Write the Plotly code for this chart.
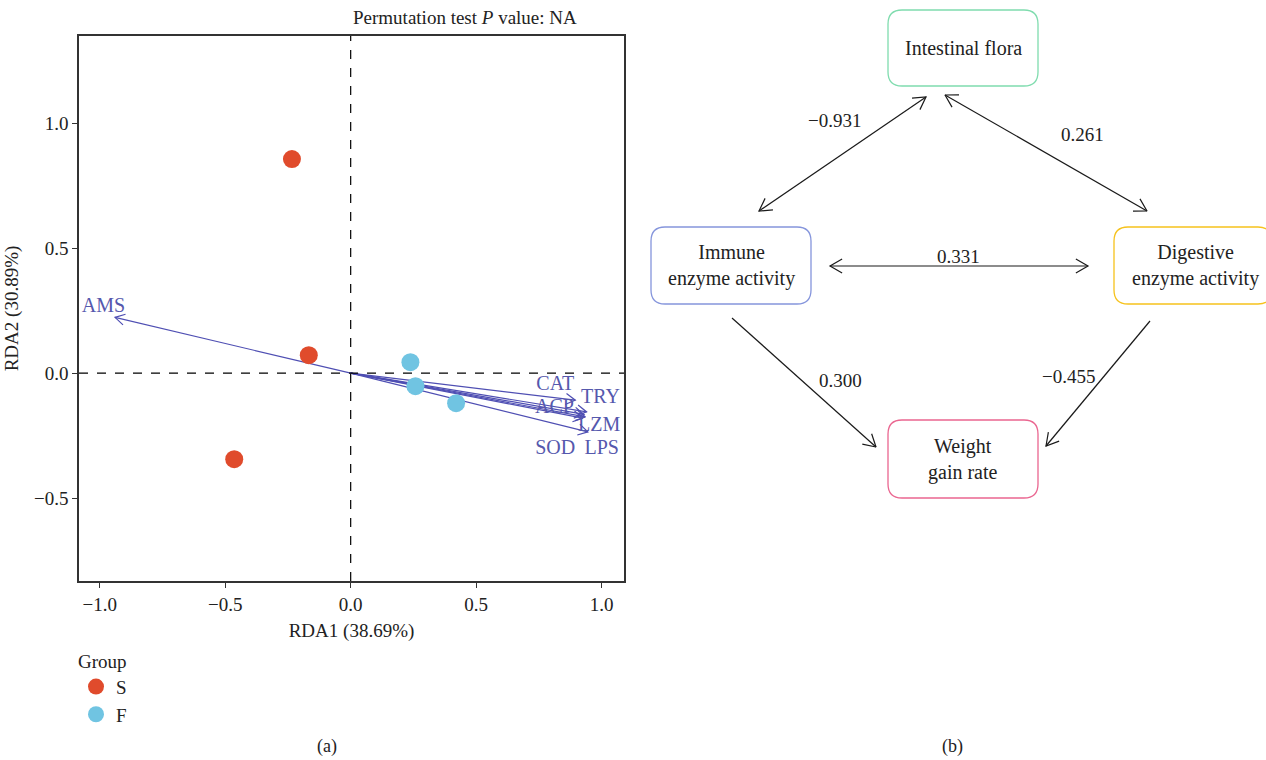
import math
import plotly.graph_objects as go

# ---------------- data: RDA biplot ----------------
groups = ["S", "S", "S", "F", "F", "F"]
rda1 = [-0.234, -0.167, -0.464, 0.238, 0.258, 0.420]
rda2 = [0.856, 0.072, -0.344, 0.044, -0.052, -0.120]
group_order = ["S", "F"]
group_colors = {"S": "#e04b2c", "F": "#70c4e2"}

env_names = ["AMS", "CAT", "TRY", "ACP", "LZM", "SOD", "LPS"]
env_x = [-0.939, 0.895, 0.940, 0.930, 0.935, 0.925, 0.945]
env_y = [0.223, -0.108, -0.155, -0.165, -0.175, -0.180, -0.235]
env_label_x = [-0.985, 0.815, 0.995, 0.812, 0.990, 0.815, 1.000]
env_label_y = [0.265, -0.048, -0.100, -0.140, -0.212, -0.304, -0.304]

x_ticks = [-1.0, -0.5, 0.0, 0.5, 1.0]
y_ticks = [-0.5, 0.0, 0.5, 1.0]

# ---------------- data: path diagram ----------------
node_names = ["Intestinal flora", "Immune<br>enzyme activity",
              "Digestive<br>enzyme activity", "Weight<br>gain rate"]
node_colors = ["#7fdcae", "#8595dc", "#f6c21c", "#ea6690"]
path_labels = ["\u22120.931", "0.261", "0.331", "0.300", "\u22120.455"]

# ---------------- layout geometry ----------------
W, H = 1266, 760
XR = [-1.0825, 1.089]
YR = [-0.831, 1.348]
PX0, PX1, PY0, PY1 = 79, 624, 36, 581  # plot area pixels (left, right, top, bottom)

FONT = "Liberation Serif"
ARROW_C = "#4f4fb3"
TXT = "#222222"

fig = go.Figure()

def d2p(x, y):
    px = PX0 + (x - XR[0]) / (XR[1] - XR[0]) * (PX1 - PX0)
    py = PY1 - (y - YR[0]) / (YR[1] - YR[0]) * (PY1 - PY0)
    return px, py

def p2d(px, py):
    x = XR[0] + (px - PX0) / (PX1 - PX0) * (XR[1] - XR[0])
    y = YR[0] + (PY1 - py) / (PY1 - PY0) * (YR[1] - YR[0])
    return x, y

def head_px(x0, y0, x1, y1, L=12, ang=28):
    a = math.atan2(y1 - y0, x1 - x0)
    pts = []
    for s in (1, -1):
        b = a + math.pi + s * math.radians(ang)
        pts.append((x1 + L * math.cos(b), y1 + L * math.sin(b)))
    return pts

# env arrows
for name, ex, ey in zip(env_names, env_x, env_y):
    ox, oy = d2p(0, 0)
    tx, ty = d2p(ex, ey)
    (h1x, h1y), (h2x, h2y) = head_px(ox, oy, tx, ty, L=11, ang=30)
    a1 = p2d(h1x, h1y)
    a2 = p2d(h2x, h2y)
    fig.add_trace(go.Scatter(
        x=[0, ex, None, a1[0], ex, a2[0]],
        y=[0, ey, None, a1[1], ey, a2[1]],
        mode="lines", line=dict(color=ARROW_C, width=1.2),
        showlegend=False, hoverinfo="skip", xaxis="x", yaxis="y"))

fig.add_trace(go.Scatter(
    x=env_label_x, y=env_label_y, text=env_names, mode="text",
    textfont=dict(family=FONT, size=20, color="#5558ad"),
    showlegend=False, hoverinfo="skip", xaxis="x", yaxis="y"))

# sample points
for g in group_order:
    xs = [x for x, gg in zip(rda1, groups) if gg == g]
    ys = [y for y, gg in zip(rda2, groups) if gg == g]
    fig.add_trace(go.Scatter(
        x=xs, y=ys, mode="markers", name=g,
        marker=dict(color=group_colors[g], size=18, line=dict(width=0)),
        xaxis="x", yaxis="y"))

# dashed zero lines
fig.add_shape(type="line", xref="x", yref="paper", x0=0, x1=0,
              y0=(H - PY1) / H, y1=(H - PY0) / H,
              line=dict(color="black", width=1.2, dash="dash"))
fig.add_shape(type="line", xref="paper", yref="y", x0=PX0 / W, x1=PX1 / W,
              y0=0, y1=0, line=dict(color="black", width=1.2, dash="dash"))

# ---------------- path diagram (pixel coords on x2/y2) ----------------
boxes = [(888, 10, 1038, 86), (651, 227, 811, 304), (1114, 227, 1272, 304), (888, 420, 1038, 498)]
r = 14
for (x0, y0, x1, y1), col in zip(boxes, node_colors):
    path = (f"M {x0+r},{y0} L {x1-r},{y0} Q {x1},{y0} {x1},{y0+r} L {x1},{y1-r} "
            f"Q {x1},{y1} {x1-r},{y1} L {x0+r},{y1} Q {x0},{y1} {x0},{y1-r} "
            f"L {x0},{y0+r} Q {x0},{y0} {x0+r},{y0} Z")
    fig.add_shape(type="path", path=path, xref="x2", yref="y2",
                  line=dict(color=col, width=1.3), fillcolor="white")

node_text_pos = [(963, 48), (731, 265), (1195, 265), (963, 459)]
for name, (tx, ty) in zip(node_names, node_text_pos):
    fig.add_annotation(x=tx, y=ty, xref="x2", yref="y2", text=name, showarrow=False,
                       font=dict(family=FONT, size=20, color=TXT), align="center")

# (start, end, double-headed)
links = [((759, 211), (926, 97), True),
         ((945, 95), (1147, 211), True),
         ((830, 266), (1088, 266), True),
         ((732, 318), (876, 447), False),
         ((1150, 321), (1046, 446), False)]
label_pos = [(834, 120), (1082, 134), (958, 256), (840, 380), (1068, 376)]

for (s, e, dbl) in links:
    xs = [s[0], e[0], None]
    ys = [s[1], e[1], None]
    (h1, h2) = head_px(s[0], s[1], e[0], e[1], L=14, ang=30)
    xs += [h1[0], e[0], h2[0], None]
    ys += [h1[1], e[1], h2[1], None]
    if dbl:
        (g1, g2) = head_px(e[0], e[1], s[0], s[1], L=14, ang=30)
        xs += [g1[0], s[0], g2[0]]
        ys += [g1[1], s[1], g2[1]]
    fig.add_trace(go.Scatter(x=xs, y=ys, mode="lines", line=dict(color="#1a1a1a", width=1.2),
                             showlegend=False, hoverinfo="skip", xaxis="x2", yaxis="y2"))

for lab, (lx, ly) in zip(path_labels, label_pos):
    fig.add_annotation(x=lx, y=ly, xref="x2", yref="y2", text=lab, showarrow=False,
                       font=dict(family=FONT, size=19, color=TXT))

# panel captions and title
fig.add_annotation(x=315 / W, y=1 - 746 / H, xref="paper", yref="paper", text="(a)",
                   showarrow=False, yanchor="middle", font=dict(family=FONT, size=18, color=TXT))
fig.add_annotation(x=965 / W, y=1 - 746 / H, xref="paper", yref="paper", text="(b)",
                   showarrow=False, yanchor="middle", font=dict(family=FONT, size=18, color=TXT))
fig.add_annotation(x=351 / W, y=1 - 18 / H, xref="paper", yref="paper",
                   text="Permutation test <i>P</i> value: NA", showarrow=False,
                   yanchor="middle", font=dict(family=FONT, size=19, color=TXT))

axis_common = dict(showgrid=False, zeroline=False, showline=True, linecolor="#333333",
                   linewidth=1.5, mirror=True, ticks="outside", ticklen=5,
                   tickcolor="#333333", tickwidth=1.2,
                   tickfont=dict(family=FONT, size=19, color=TXT))

fig.update_layout(
    width=W, height=H, margin=dict(l=0, r=0, t=0, b=0),
    paper_bgcolor="white", plot_bgcolor="white",
    xaxis=dict(domain=[PX0 / W, PX1 / W], range=XR, tickvals=x_ticks,
               ticktext=[f"{v:.1f}".replace("-", "\u2212") for v in x_ticks],
               title=dict(text="RDA1 (38.69%)", font=dict(family=FONT, size=19, color=TXT),
                          standoff=10), anchor="y", **axis_common),
    yaxis=dict(domain=[1 - PY1 / H, 1 - PY0 / H], range=YR, tickvals=y_ticks,
               ticktext=[f"{v:.1f}".replace("-", "\u2212") for v in y_ticks],
               title=dict(text="RDA2 (30.89%)", font=dict(family=FONT, size=19, color=TXT),
                          standoff=10), anchor="x", **axis_common),
    xaxis2=dict(domain=[640 / W, 1], range=[640, W], visible=False, anchor="y2"),
    yaxis2=dict(domain=[0, 1], range=[H, 0], visible=False, anchor="x2"),
    legend=dict(x=76 / W, y=1 - 643 / H, xanchor="left", yanchor="top",
                title=dict(text="Group", font=dict(family=FONT, size=19, color=TXT)),
                font=dict(family=FONT, size=19, color=TXT),
                tracegroupgap=0, itemsizing="trace", bgcolor="rgba(0,0,0,0)"),
    showlegend=True,
)

fig.write_html("out.html", config={"displayModeBar": False},
               post_script="document.body.style.margin='0';document.body.style.overflow='hidden';")
